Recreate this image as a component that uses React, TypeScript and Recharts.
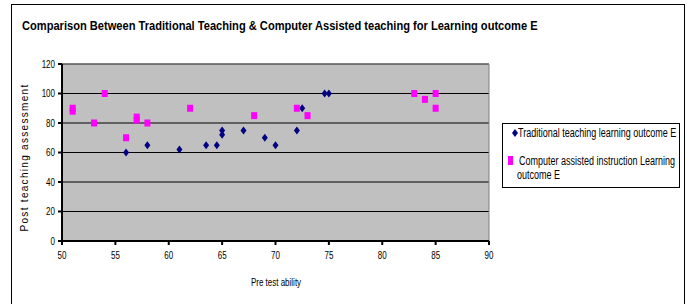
import React from 'react';
import { ScatterChart, Scatter, XAxis, YAxis, CartesianGrid, ReferenceLine } from 'recharts';

// Traditional teaching, learning outcome E
const traditionalPre = [56, 58, 61, 63.5, 64.5, 65, 65, 67, 69, 70, 72, 72.5, 74.6, 75];
const traditionalPost = [60, 65, 62, 65, 65, 75, 72, 75, 70, 65, 75, 90, 100, 100];

// Computer assisted instruction, learning outcome E
const computerPre = [51, 51, 53, 54, 56, 57, 57, 58, 62, 68, 72, 73, 83, 84, 85, 85];
const computerPost = [88, 90, 80, 100, 70, 82, 84, 80, 90, 85, 90, 85, 100, 96, 100, 90];

const xTicks = [50, 55, 60, 65, 70, 75, 80, 85, 90];
const yTicks = [0, 20, 40, 60, 80, 100, 120];

const traditionalData = traditionalPre.map((x, i) => ({ x, y: traditionalPost[i] }));
const computerData = computerPre.map((x, i) => ({ x, y: computerPost[i] }));

const font = 'Arial, "Liberation Sans", sans-serif';

const Diamond = (props: any) => {
  const { cx, cy } = props;
  return (
    <polygon
      points={`${cx},${cy - 4} ${cx + 3},${cy} ${cx},${cy + 4} ${cx - 3},${cy}`}
      fill="#000080"
    />
  );
};

const Square = (props: any) => {
  const { cx, cy } = props;
  return <rect x={cx - 3} y={cy - 3.5} width={6} height={7} fill="#FF00FF" />;
};

// narrow-looking tick labels (no Arial Narrow available)
const XTick = (props: any) => {
  const { x, y, payload } = props;
  return (
    <text transform={`translate(${x},${y + 12}) scale(0.8,1)`} textAnchor="middle" fontSize={10} fontFamily={font} fill="#000">
      {payload.value}
    </text>
  );
};

const YTick = (props: any) => {
  const { x, y, payload } = props;
  return (
    <text transform={`translate(${x - 1},${y + 3.5}) scale(0.8,1)`} textAnchor="end" fontSize={10} fontFamily={font} fill="#000">
      {payload.value}
    </text>
  );
};

const legendText: React.CSSProperties = {
  position: 'absolute',
  fontFamily: font,
  fontSize: 12,
  lineHeight: '14px',
  color: '#000',
  whiteSpace: 'nowrap',
  transform: 'scale(0.75,1)',
  transformOrigin: '0 0',
};

const LegendBox = () => (
  <div
    style={{
      position: 'absolute',
      left: 502,
      top: 123,
      width: 178,
      height: 65,
      border: '1px solid #000',
      background: '#fff',
      boxSizing: 'border-box',
    }}
  >
    <svg width={6} height={8} style={{ position: 'absolute', left: 9, top: 5 }}>
      <polygon points="3,0 6,4 3,8 0,4" fill="#000080" />
    </svg>
    <div style={{ ...legendText, left: 15, top: 2 }}>Traditional teaching learning outcome E</div>
    <svg width={5} height={9} style={{ position: 'absolute', left: 5, top: 32 }}>
      <rect x={0} y={0} width={5} height={9} fill="#FF00FF" />
    </svg>
    <div style={{ ...legendText, left: 16, top: 30 }}>Computer assisted instruction Learning</div>
    <div style={{ ...legendText, left: 14, top: 44 }}>outcome E</div>
  </div>
);

export default function App() {
  return (
    <div style={{ position: 'absolute', left: 0, top: 0, width: 687, height: 304, background: '#fff', overflow: 'hidden' }}>
      <div
        style={{
          position: 'absolute',
          left: 11,
          top: 4,
          width: 674,
          height: 302,
          border: '1px solid #000',
          boxSizing: 'border-box',
        }}
      />
      <div
        style={{
          position: 'absolute',
          left: 22,
          top: 19,
          fontFamily: font,
          fontWeight: 'bold',
          fontSize: 12,
          lineHeight: '14px',
          color: '#000',
          whiteSpace: 'nowrap',
          transform: 'scale(0.925,1)',
          transformOrigin: '0 0',
        }}
      >
        Comparison Between Traditional Teaching &amp; Computer Assisted teaching for Learning outcome E
      </div>
      <div style={{ position: 'absolute', left: 0, top: 0 }}>
        <ScatterChart width={687} height={304} margin={{ top: 64, right: 198, left: 32, bottom: 33 }}>
          <CartesianGrid fill="#C0C0C0" fillOpacity={1} stroke="#000" vertical={false} />
          <ReferenceLine y={120} stroke="#808080" />
          <ReferenceLine x={90} stroke="#808080" />
          <XAxis
            type="number"
            dataKey="x"
            domain={[50, 90]}
            ticks={xTicks}
            interval={0}
            height={30}
            stroke="#000"
            strokeWidth={2}
            tickSize={4}
            tick={<XTick />}
          />
          <YAxis
            type="number"
            dataKey="y"
            domain={[0, 120]}
            ticks={yTicks}
            interval={0}
            width={30}
            stroke="#000"
            strokeWidth={2}
            tickSize={4}
            tick={<YTick />}
            label={{
              value: 'Post teaching assessment',
              angle: -90,
              position: 'insideLeft',
              offset: -8,
              dy: 5,
              style: { textAnchor: 'middle', letterSpacing: 1.3 },
              fill: '#000',
              fontSize: 10,
              fontFamily: font,
            }}
          />
          <Scatter
            name="Traditional teaching learning outcome E"
            data={traditionalData}
            shape={Diamond}
            isAnimationActive={false}
          />
          <Scatter
            name="Computer assisted instruction Learning outcome E"
            data={computerData}
            shape={Square}
            isAnimationActive={false}
          />
        </ScatterChart>
      </div>
      <div
        style={{
          position: 'absolute',
          left: 276,
          top: 277,
          transform: 'translateX(-50%) scale(0.8,1)',
          fontFamily: font,
          fontSize: 10,
          color: '#000',
          whiteSpace: 'nowrap',
        }}
      >
        Pre test ability
      </div>
      <LegendBox />
    </div>
  );
}
